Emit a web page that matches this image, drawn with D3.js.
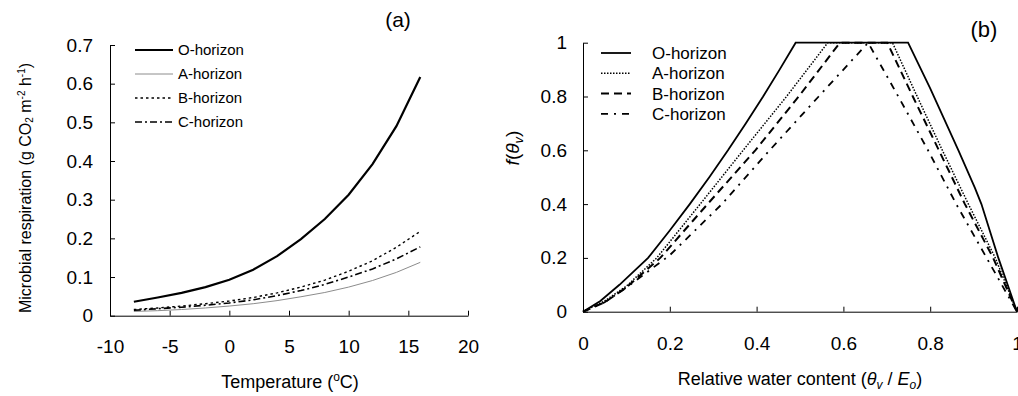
<!DOCTYPE html>
<html>
<head>
<meta charset="utf-8">
<script src="https://cdn.jsdelivr.net/npm/d3@7"></script>
<style>
  body { margin: 0; background: #fff; }
  svg { font-family: Arial, "Liberation Sans", sans-serif; }
  .axis path, .axis line { stroke: #000; stroke-width: 1; }
  .axis text { font-size: 19px; fill: #000; }
</style>
</head>
<body>
<div id="chart"></div>
<script>
// panel (a): microbial respiration vs temperature
const tempC = [-8, -6, -4, -2, 0, 2, 4, 6, 8, 10, 12, 14, 16];
const respO = [0.036, 0.047, 0.059, 0.074, 0.093, 0.119, 0.154, 0.198, 0.250, 0.313, 0.392, 0.490, 0.617];
const respA = [0.011, 0.013, 0.016, 0.020, 0.025, 0.031, 0.039, 0.049, 0.060, 0.074, 0.091, 0.112, 0.138];
const respB = [0.016, 0.020, 0.025, 0.031, 0.038, 0.047, 0.059, 0.074, 0.092, 0.115, 0.142, 0.177, 0.218];
const respC = [0.014, 0.018, 0.022, 0.027, 0.033, 0.041, 0.052, 0.065, 0.081, 0.100, 0.121, 0.147, 0.178];
const tempTicks = [-10, -5, 0, 5, 10, 15, 20];
const respTicks = [0, 0.1, 0.2, 0.3, 0.4, 0.5, 0.6, 0.7];

// panel (b): moisture function vs relative water content
const wcO = [0, 0.04, 0.084, 0.15, 0.199, 0.246, 0.291, 0.334, 0.375, 0.415, 0.453, 0.49, 0.749, 0.80, 0.865, 0.903, 0.918, 0.957, 1];
const fO  = [0, 0.04, 0.1, 0.2, 0.3, 0.4, 0.5, 0.6, 0.7, 0.8, 0.9, 1, 1, 0.83, 0.6, 0.46, 0.4, 0.2, 0];
const wcA = [0, 0.05, 0.1, 0.17, 0.27, 0.369, 0.469, 0.564, 0.713, 0.77, 0.828, 0.888, 0.95, 1];
const fA  = [0, 0.04, 0.095, 0.2, 0.4, 0.6, 0.8, 1, 1, 0.8, 0.6, 0.4, 0.2, 0];
const wcB = [0, 0.05, 0.1, 0.178, 0.287, 0.397, 0.497, 0.592, 0.701, 0.76, 0.82, 0.88, 0.945, 1];
const fB  = [0, 0.035, 0.09, 0.2, 0.4, 0.6, 0.8, 1, 1, 0.8, 0.6, 0.4, 0.2, 0];
const wcC = [0, 0.05, 0.1, 0.2, 0.32, 0.43, 0.543, 0.657, 0.73, 0.795, 0.86, 0.93, 1];
const fC  = [0, 0.035, 0.09, 0.21, 0.4, 0.6, 0.8, 1, 0.79, 0.6, 0.4, 0.2, 0];
const wcTicks = [0, 0.2, 0.4, 0.6, 0.8, 1];
const fTicks = [0, 0.2, 0.4, 0.6, 0.8, 1];

const horizons = ['O-horizon', 'A-horizon', 'B-horizon', 'C-horizon'];

const svg = d3.select('#chart').append('svg')
    .attr('width', 1018)
    .attr('height', 396);

// ---------- panel (a) ----------
const xa = d3.scaleLinear().domain([-10, 20]).range([110, 468]);
const ya = d3.scaleLinear().domain([0, 0.7]).range([315.7, 45]);

svg.append('g')
    .attr('class', 'axis')
    .attr('transform', `translate(0,${ya(0)})`)
    .call(d3.axisBottom(xa).tickValues(tempTicks).tickFormat(d => d)
        .tickSizeInner(-5).tickSizeOuter(0).tickPadding(24));

svg.append('g')
    .attr('class', 'axis')
    .attr('transform', `translate(${xa(-10)},0)`)
    .call(d3.axisLeft(ya).tickValues(respTicks).tickFormat(d => d)
        .tickSizeInner(-5).tickSizeOuter(0).tickPadding(17));

const styleA = [
    { stroke: '#000', width: 2.2, dash: null },
    { stroke: '#8c8c8c', width: 1, dash: null },
    { stroke: '#000', width: 1.4, dash: '2.5,3' },
    { stroke: '#000', width: 1.6, dash: '7,3,2,3' }
];

const seriesA = [respO, respA, respB, respC];
const lineA = d3.line().x(d => xa(d[0])).y(d => ya(d[1]));

seriesA.forEach((vals, i) => {
    svg.append('path')
        .datum(tempC.map((t, k) => [t, vals[k]]))
        .attr('fill', 'none')
        .attr('stroke', styleA[i].stroke)
        .attr('stroke-width', styleA[i].width)
        .attr('stroke-dasharray', styleA[i].dash)
        .attr('d', lineA);
});

// legend (a)
horizons.forEach((name, i) => {
    const y = 50 + i * 24;
    svg.append('line')
        .attr('x1', 135).attr('x2', 173)
        .attr('y1', y).attr('y2', y)
        .attr('stroke', styleA[i].stroke)
        .attr('stroke-width', styleA[i].width)
        .attr('stroke-dasharray', styleA[i].dash);
    svg.append('text')
        .attr('x', 178).attr('y', y)
        .attr('dy', '0.35em')
        .attr('font-size', 15)
        .text(name);
});

// axis titles (a)
const xtA = svg.append('text')
    .attr('x', 290).attr('y', 388)
    .attr('text-anchor', 'middle')
    .attr('font-size', 18);
xtA.append('tspan').text('Temperature (');
xtA.append('tspan').attr('font-size', 12).attr('dy', -7).text('o');
xtA.append('tspan').attr('dy', 7).text('C)');

const ytA = svg.append('text')
    .attr('transform', 'translate(31,188) rotate(-90)')
    .attr('text-anchor', 'middle')
    .attr('font-size', 16);
ytA.append('tspan').text('Microbial respiration (g CO');
ytA.append('tspan').attr('font-size', 10).attr('dy', 2).text('2');
ytA.append('tspan').attr('dy', -2).text(' m');
ytA.append('tspan').attr('font-size', 10).attr('dy', -6).text('-2');
ytA.append('tspan').attr('dy', 6).text(' h');
ytA.append('tspan').attr('font-size', 10).attr('dy', -6).text('-1');
ytA.append('tspan').attr('dy', 6).text(')');

svg.append('text')
    .attr('x', 398).attr('y', 27)
    .attr('text-anchor', 'middle')
    .attr('font-size', 21)
    .text('(a)');

// ---------- panel (b) ----------
const xb = d3.scaleLinear().domain([0, 1]).range([583, 1017]);
const yb = d3.scaleLinear().domain([0, 1]).range([311.7, 42.7]);

svg.append('g')
    .attr('class', 'axis')
    .attr('transform', `translate(0,${yb(0)})`)
    .call(d3.axisBottom(xb).tickValues(wcTicks).tickFormat(d => d)
        .tickSizeInner(-5).tickSizeOuter(0).tickPadding(25));

svg.append('g')
    .attr('class', 'axis')
    .attr('transform', `translate(${xb(0)},0)`)
    .call(d3.axisLeft(yb).tickValues(fTicks).tickFormat(d => d)
        .tickSizeInner(-5).tickSizeOuter(0).tickPadding(16));

const styleB = [
    { width: 1.8, dash: null },
    { width: 1.5, dash: '1.5,1.5' },
    { width: 2, dash: '8,5' },
    { width: 1.8, dash: '7,6,2,6' }
];

const seriesB = [[wcO, fO], [wcA, fA], [wcB, fB], [wcC, fC]];
const lineB = d3.line().x(d => xb(d[0])).y(d => yb(d[1]));

seriesB.forEach((s, i) => {
    svg.append('path')
        .datum(s[0].map((w, k) => [w, s[1][k]]))
        .attr('fill', 'none')
        .attr('stroke', '#000')
        .attr('stroke-width', styleB[i].width)
        .attr('stroke-dasharray', styleB[i].dash)
        .attr('d', lineB);
});

// legend (b)
horizons.forEach((name, i) => {
    const y = 53 + i * 20.3;
    svg.append('line')
        .attr('x1', 601).attr('x2', 631)
        .attr('y1', y).attr('y2', y)
        .attr('stroke', '#000')
        .attr('stroke-width', styleB[i].width)
        .attr('stroke-dasharray', styleB[i].dash);
    svg.append('text')
        .attr('x', 652).attr('y', y)
        .attr('dy', '0.35em')
        .attr('font-size', 17)
        .text(name);
});

// axis titles (b)
const xtB = svg.append('text')
    .attr('x', 800).attr('y', 385)
    .attr('text-anchor', 'middle')
    .attr('font-size', 18);
xtB.append('tspan').text('Relative water content (');
xtB.append('tspan').attr('font-style', 'italic').text('θ');
xtB.append('tspan').attr('font-size', 12).attr('font-style', 'italic').attr('dy', 4).text('v');
xtB.append('tspan').attr('dy', -4).text(' / ');
xtB.append('tspan').attr('font-style', 'italic').text('E');
xtB.append('tspan').attr('font-size', 12).attr('font-style', 'italic').attr('dy', 4).text('o');
xtB.append('tspan').attr('dy', -4).text(')');

const ytB = svg.append('text')
    .attr('transform', 'translate(519,148) rotate(-90)')
    .attr('text-anchor', 'middle')
    .attr('font-size', 19);
ytB.append('tspan').attr('font-style', 'italic').text('f');
ytB.append('tspan').text('(');
ytB.append('tspan').attr('font-style', 'italic').text('θ');
ytB.append('tspan').attr('font-size', 13).attr('font-style', 'italic').attr('dy', 4).text('v');
ytB.append('tspan').attr('dy', -4).text(')');

svg.append('text')
    .attr('x', 984).attr('y', 37)
    .attr('text-anchor', 'middle')
    .attr('font-size', 22)
    .text('(b)');
</script>
</body>
</html>
